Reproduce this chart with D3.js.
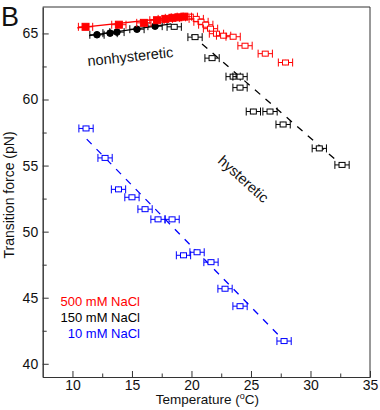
<!DOCTYPE html>
<html>
<head>
<meta charset="utf-8">
<script src="https://cdnjs.cloudflare.com/ajax/libs/d3/7.8.5/d3.min.js"></script>
<style>
  body { margin: 0; background: #fff; }
  svg { font-family: "Liberation Sans", Arial, sans-serif; }
</style>
</head>
<body>
<svg width="380" height="410"></svg>
<script>
// data (temperature in C, force in pN)
let redFilledT = [11.1, 13.9, 16.0, 17.1, 17.8, 18.4, 18.9, 19.4];
let redFilledF = [65.5, 65.66, 65.8, 66.0, 66.1, 66.18, 66.22, 66.27];
let redOpenT = [19.9, 20.4, 20.8, 21.2, 21.6, 22.1, 22.7, 23.5, 24.5, 26.2, 27.9];
let redOpenF = [66.27, 66.1, 65.88, 65.66, 65.36, 64.98, 64.83, 64.75, 64.07, 63.47, 62.8];

let blackFilledT = [12.06, 13.16, 13.74, 15.42, 16.94];
let blackFilledF = [64.9, 65.02, 65.1, 65.32, 65.55];
let blackOpenT = [18.55, 20.3, 21.73, 23.5, 24.08, 24.08, 25.2, 26.6, 27.7, 30.74, 32.65];
let blackOpenF = [65.5, 64.72, 63.13, 61.73, 61.73, 60.9, 59.09, 59.09, 58.11, 56.3, 55.05];

let blueT = [11.14, 12.74, 13.87, 15.0, 16.1, 17.19, 18.37, 19.33, 20.47, 21.64, 22.82, 24.08, 27.78];
let blueF = [57.81, 55.58, 53.2, 52.6, 51.7, 50.93, 50.93, 48.21, 48.44, 47.69, 45.68, 44.36, 41.72];

// fitted lines (end points)
let redFitT = [10.4, 19.4], redFitF = [65.42, 66.3];
let blackFitT = [11.4, 18.3], blackFitF = [64.83, 65.72];
let blackDashT = [20.0, 32.8], blackDashF = [64.9, 54.9];
let blueDashT = [11.2, 27.8], blueDashF = [57.0, 41.73];

let xErr = 0.6, yErr = 0.2;

let xTicks = [10, 15, 20, 25, 30, 35];
let xMinor = [12.5, 17.5, 22.5, 27.5, 32.5];
let yTicks = [40, 45, 50, 55, 60, 65];
let yMinor = [42.5, 47.5, 52.5, 57.5, 62.5];

let legendLabels = ["500 mM NaCl", "150 mM NaCl", "10 mM NaCl"];
let legendColors = ["#ff0000", "#000000", "#0000ff"];

let svg = d3.select("svg");

let padLeft = 42.7, padRight = 370, padTop = 7, padBottom = 377;

let xScale = d3.scaleLinear().domain([7.5, 35]).range([padLeft, padRight]);
let yScale = d3.scaleLinear().domain([39, 67]).range([padBottom, padTop]);

let zip = (ts, fs) => ts.map((t, i) => ({t: t, f: fs[i]}));

// axes
let xAxis = d3.axisBottom(xScale).tickValues(xTicks).tickSizeInner(-6).tickSizeOuter(0).tickPadding(3);
let xAxisMinor = d3.axisBottom(xScale).tickValues(xMinor).tickSizeInner(-3.5).tickSizeOuter(0).tickFormat("");
let yAxis = d3.axisLeft(yScale).tickValues(yTicks).tickSizeInner(-6).tickSizeOuter(0).tickPadding(4.5);
let yAxisMinor = d3.axisLeft(yScale).tickValues(yMinor).tickSizeInner(-4).tickSizeOuter(0).tickFormat("");

svg.append("g").attr("transform", "translate(0," + padBottom + ")").call(xAxis);
svg.append("g").attr("transform", "translate(0," + padBottom + ")").call(xAxisMinor);
svg.append("g").attr("transform", "translate(" + padLeft + ",0)").call(yAxis);
svg.append("g").attr("transform", "translate(" + padLeft + ",0)").call(yAxisMinor);

svg.selectAll(".domain").attr("stroke", "#333");
svg.selectAll(".tick line").attr("stroke", "#333");
svg.selectAll(".tick text")
   .attr("font-family", "Liberation Sans, Arial, sans-serif")
   .attr("font-size", 14)
   .attr("fill", "#111");

// frame top and right
svg.append("line").attr("x1", padLeft).attr("x2", padRight).attr("y1", padTop).attr("y2", padTop).attr("stroke", "#333");
svg.append("line").attr("x1", padRight).attr("x2", padRight).attr("y1", padTop).attr("y2", padBottom).attr("stroke", "#333");

// axis titles
let xt = svg.append("text")
   .attr("x", (padLeft + padRight) / 2 + 1)
   .attr("y", 404)
   .attr("text-anchor", "middle")
   .attr("font-size", 13.5)
   .attr("fill", "#111");
xt.append("tspan").text("Temperature (");
xt.append("tspan").attr("font-size", 9).attr("dy", -5).text("o");
xt.append("tspan").attr("dy", 5).text("C)");

svg.append("text")
   .attr("transform", "translate(14,195) rotate(-90)")
   .attr("text-anchor", "middle")
   .attr("font-size", 14)
   .attr("fill", "#111")
   .text("Transition force (pN)");

svg.append("text")
   .attr("x", 1).attr("y", 26)
   .attr("font-size", 27)
   .attr("fill", "#111")
   .text("B");

// lines
let line = d3.line().x(d => xScale(d.t)).y(d => yScale(d.f));

let drawLine = (ts, fs, color, dash) => {
  svg.append("path")
     .datum(zip(ts, fs))
     .attr("d", line)
     .attr("fill", "none")
     .attr("stroke", color)
     .attr("stroke-width", 1.3)
     .attr("stroke-dasharray", dash ? "7,7" : null);
};

drawLine(redFitT, redFitF, "#ff0000", false);
drawLine(blackFitT, blackFitF, "#000000", false);
drawLine(blackDashT, blackDashF, "#000000", true);
drawLine(blueDashT, blueDashF, "#0000ff", true);

// error bars + markers
let drawPoints = (ts, fs, color, shape) => {
  let g = svg.append("g").attr("stroke", color).attr("stroke-width", 1);
  let pts = g.selectAll("g").data(zip(ts, fs)).enter().append("g");
  pts.append("line")
     .attr("x1", d => xScale(d.t - xErr)).attr("x2", d => xScale(d.t + xErr))
     .attr("y1", d => yScale(d.f)).attr("y2", d => yScale(d.f));
  pts.append("line")
     .attr("x1", d => xScale(d.t - xErr)).attr("x2", d => xScale(d.t - xErr))
     .attr("y1", d => yScale(d.f) - 4).attr("y2", d => yScale(d.f) + 4);
  pts.append("line")
     .attr("x1", d => xScale(d.t + xErr)).attr("x2", d => xScale(d.t + xErr))
     .attr("y1", d => yScale(d.f) - 4).attr("y2", d => yScale(d.f) + 4);
  pts.append("line")
     .attr("x1", d => xScale(d.t)).attr("x2", d => xScale(d.t))
     .attr("y1", d => yScale(d.f + yErr)).attr("y2", d => yScale(d.f - yErr));
  if (shape === "circle") {
    pts.append("circle")
       .attr("cx", d => xScale(d.t)).attr("cy", d => yScale(d.f))
       .attr("r", 3.3).attr("fill", color);
  } else {
    let s = shape === "filled" ? 7 : 6;
    pts.append("rect")
       .attr("x", d => xScale(d.t) - s / 2).attr("y", d => yScale(d.f) - s / 2 + (shape === "filled" ? 0 : 0.5))
       .attr("width", s).attr("height", shape === "filled" ? s : s - 1)
       .attr("fill", shape === "filled" ? color : "#fff");
  }
};

drawPoints(blackOpenT, blackOpenF, "#000000", "open");
drawPoints(blackFilledT, blackFilledF, "#000000", "circle");
drawPoints(redOpenT, redOpenF, "#ff0000", "open");
drawPoints(redFilledT, redFilledF, "#ff0000", "filled");
drawPoints(blueT, blueF, "#0000ff", "open");

// annotations
svg.append("text")
   .attr("transform", "translate(88,66) rotate(-6)")
   .attr("font-size", 14.5)
   .attr("fill", "#111")
   .text("nonhysteretic");

svg.append("text")
   .attr("transform", "translate(217,162) rotate(42)")
   .attr("font-size", 14.5)
   .attr("fill", "#111")
   .text("hysteretic");

// legend
svg.selectAll(".legend")
   .data(legendLabels)
   .enter()
   .append("text")
   .attr("class", "legend")
   .attr("x", 140)
   .attr("y", (d, i) => 306 + i * 16)
   .attr("text-anchor", "end")
   .attr("font-size", 13)
   .attr("fill", (d, i) => legendColors[i])
   .text(d => d);
</script>
</body>
</html>
